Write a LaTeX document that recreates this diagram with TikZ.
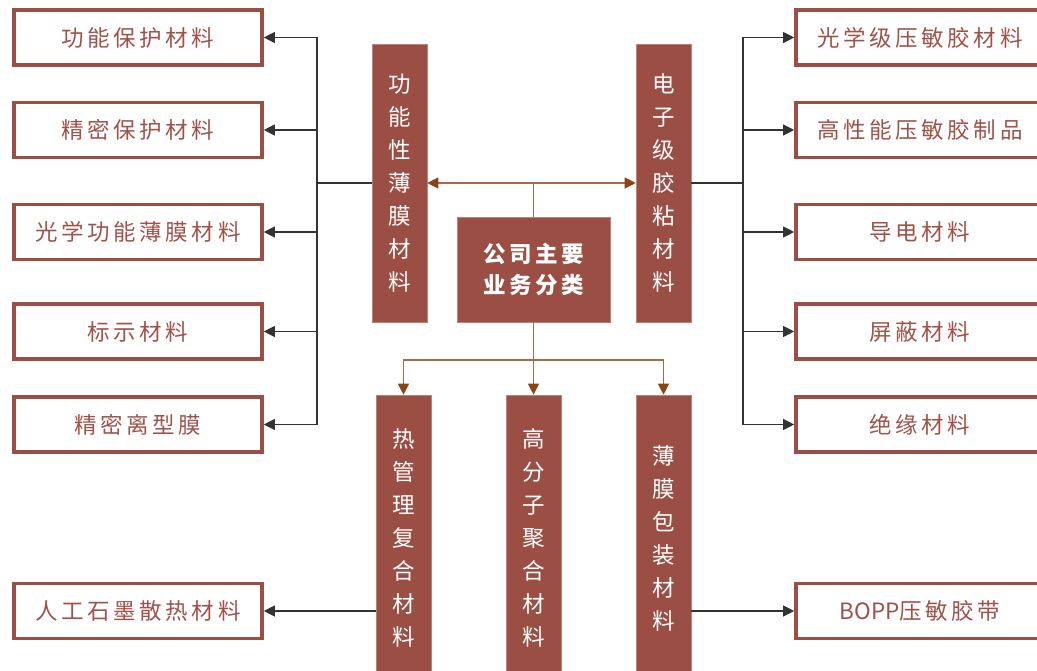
\documentclass[tikz,border=0pt]{standalone}
\usepackage{fontspec}
\newfontfamily\cjk[LetterSpace=16]{Noto Sans CJK SC}
\newfontfamily\cjkv{Noto Sans CJK SC}
\usetikzlibrary{arrows.meta}
\definecolor{rb}{HTML}{9B4F44}
\definecolor{rbt}{HTML}{A0524A}
\definecolor{brn}{HTML}{8B4513}
\definecolor{brl}{HTML}{A86A4C}
\definecolor{ln}{HTML}{333333}
\tikzset{
  obox/.style={draw=rb,line width=3.6pt,fill=white,minimum width=248pt,minimum height=55pt,inner sep=0pt,
    font=\cjk\fontsize{22.5}{24}\selectfont,text=rbt},
  vbox/.style={fill=rb,draw=rb!70,line width=0.6pt,minimum width=55pt,inner sep=0pt,text=white,align=center,
    font=\cjkv\fontsize{22.5}{33}\selectfont},
  cbox/.style={fill=rb,draw=rb!70,line width=0.6pt,minimum width=153pt,minimum height=105pt,inner sep=0pt,text=white,align=center,
    font=\cjk\bfseries\fontsize{22.5}{33}\selectfont},
  blk/.style={draw=ln,line width=1.1pt},
  blka/.style={blk,-{Triangle[length=11pt,width=11pt]}},
  brna/.style={draw=brl,line width=1.1pt,-{Triangle[length=11pt,width=11pt,fill=brn,color=brn]}},
  brnl/.style={draw=brl,line width=1.1pt},
}
\begin{document}
\begin{tikzpicture}[x=1pt,y=-1pt]
\useasboundingbox (0,0) rectangle (1037,671);
% left boxes
\node[obox] (L1) at (138,37.5) {功能保护材料};
\node[obox] (L2) at (138,130) {精密保护材料};
\node[obox] (L3) at (138,232) {光学功能薄膜材料};
\node[obox] (L4) at (138,331.5) {标示材料};
\node[obox] (L5) at (138,424.5) {精密离型膜};
\node[obox] (L6) at (138,611) {人工石墨散热材料};
% right boxes
\node[obox] (R1) at (920,37.5) {光学级压敏胶材料};
\node[obox] (R2) at (920,130) {高性能压敏胶制品};
\node[obox] (R3) at (920,232) {导电材料};
\node[obox] (R4) at (920,331.5) {屏蔽材料};
\node[obox] (R5) at (920,424.5) {绝缘材料};
\node[obox] (R6) at (920,611) {{\cjkv BOPP}压敏胶带};
% vertical boxes
\node[vbox,minimum height=278pt] (F) at (399.5,183) {功\\能\\性\\薄\\膜\\材\\料};
\node[vbox,minimum height=278pt] (E) at (663.5,183) {电\\子\\级\\胶\\粘\\材\\料};
\node[cbox] (C) at (533.5,269.5) {公司主要\\[-2pt]业务分类};
\node[vbox,minimum height=286pt] (B1) at (403.5,538) {热\\管\\理\\复\\合\\材\\料};
\node[vbox,minimum height=286pt] (B2) at (533.5,538) {高\\分\\子\\聚\\合\\材\\料};
\node[vbox,minimum height=286pt] (B3) at (663.5,538) {薄\\膜\\包\\装\\材\\料};
% center connectors
\coordinate (CT) at (C.north |- F.east);
\draw[brnl] (C.north) -- (CT);
\draw[brna] (CT) -- (F.east);
\draw[brna] (CT) -- (E.west);
\coordinate (CB) at (533.5,360);
\draw[brnl] (C.south) -- (CB);
\draw[brna] (CB) -| (B1.north);
\draw[brna] (CB) -- (B2.north);
\draw[brna] (CB) -| (B3.north);
% left tree
\coordinate (LT) at (317,183);
\draw[blk] (F.west) -- (LT);
\foreach \n in {L1,L2,L3,L4,L5} \draw[blka] (LT) |- (\n.east);
% right tree
\coordinate (RT) at (743,183);
\draw[blk] (E.east) -- (RT);
\foreach \n in {R1,R2,R3,R4,R5} \draw[blka] (RT) |- (\n.west);
% bottom
\draw[blka] (B1.west |- L6.east) -- (L6.east);
\draw[blka] (B3.east |- R6.west) -- (R6.west);
\end{tikzpicture}
\end{document}
